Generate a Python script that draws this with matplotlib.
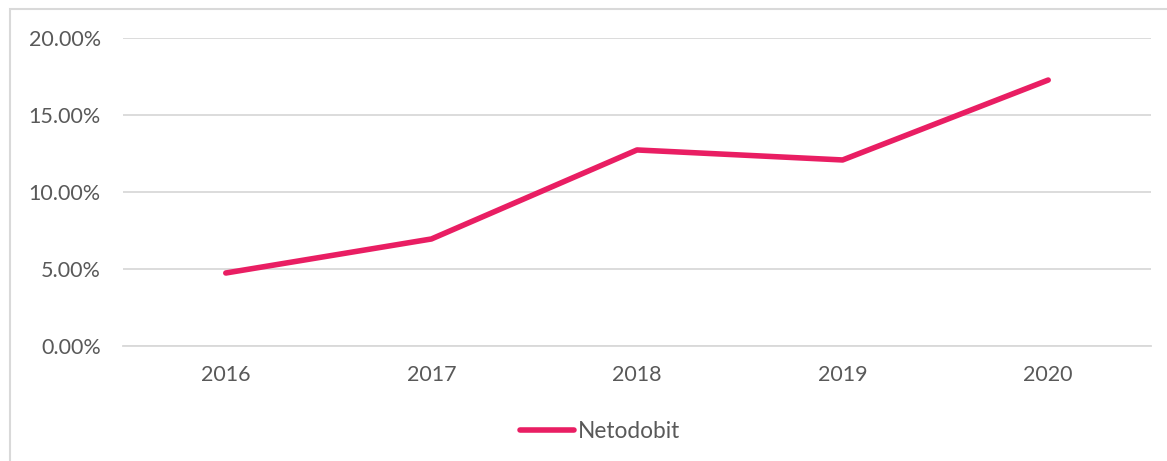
import matplotlib.pyplot as plt
from matplotlib.patches import Rectangle
from matplotlib.ticker import PercentFormatter, MultipleLocator

years = ["2016", "2017", "2018", "2019", "2020"]
netodobit = [4.74, 6.95, 12.73, 12.08, 17.27]

pink = "#e91e63"
grid = "#d9d9d9"
text = "#595959"

plt.rcParams["font.family"] = ["Lato", "DejaVu Sans"]

fig = plt.figure(figsize=(11.67, 4.61), dpi=100)
ax = fig.add_axes([123 / 1167, 1 - 346 / 461, 1028 / 1167, 308 / 461])

# outer chart border, cut off at right and bottom like the original
fig.patches.append(Rectangle((10 / 1167, -0.1), 1.2, 1 - 9 / 461 + 0.1,
                             transform=fig.transFigure, fill=False,
                             edgecolor=grid, linewidth=1.5))

x = range(len(years))
ax.plot(x, netodobit, color=pink, linewidth=4, solid_capstyle="round",
        label="Netodobit")

ax.set_xlim(-0.5, len(years) - 0.5)
ax.set_ylim(0, 20)
ax.yaxis.set_major_locator(MultipleLocator(5))
ax.yaxis.set_major_formatter(PercentFormatter(decimals=2))
ax.set_xticks(list(x))
ax.set_xticklabels(years)

ax.grid(axis="y", color=grid, linewidth=1.3)
ax.set_axisbelow(True)
for s in ["top", "right", "left"]:
    ax.spines[s].set_visible(False)
ax.spines["bottom"].set_color(grid)
ax.spines["bottom"].set_linewidth(1.3)
ax.tick_params(length=0, labelsize=15.5, labelcolor=text)
ax.tick_params(axis="y", pad=16)
ax.tick_params(axis="x", pad=14)

fig.legend(loc="center", bbox_to_anchor=(600 / 1167, 1 - 431 / 461),
           frameon=False, fontsize=16.3, labelcolor=text, handlelength=2.4,
           handletextpad=0.15)

fig.savefig("out.png", dpi=100)
